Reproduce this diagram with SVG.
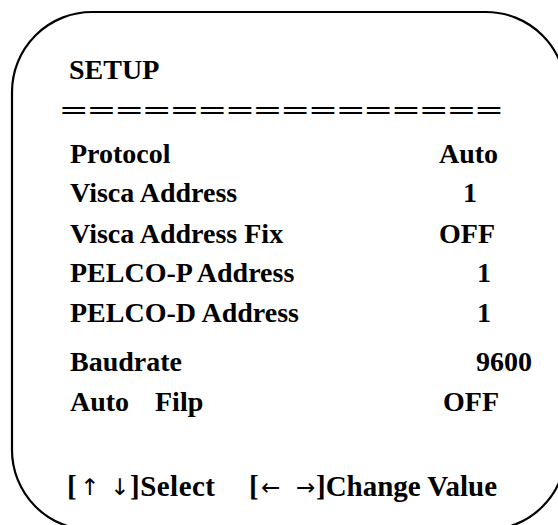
<svg xmlns="http://www.w3.org/2000/svg" width="558" height="525" viewBox="0 0 558 525">
<style>
text{font-family:'Liberation Serif','DejaVu Serif',serif;font-weight:700;font-size:28px;fill:#000}
text.f{font-size:29px}
text.a{font-family:'DejaVu Sans',sans-serif;font-weight:400;font-size:23px}
</style>
<rect width="558" height="525" fill="#fff"/>
<g id="frame"><rect x="12" y="12" width="554" height="518" rx="80" ry="80" fill="none" stroke="#000" stroke-width="2.2"/></g>
<g id="title"><text x="69" y="79">SETUP</text></g>
<g id="rule"><text x="60" y="120" textLength="443" lengthAdjust="spacingAndGlyphs">================</text></g>
<g id="row-protocol"><text x="70" y="163">Protocol</text><text x="439" y="163">Auto</text></g>
<g id="row-visca"><text x="70" y="202">Visca Address</text><text x="463" y="202">1</text></g>
<g id="row-viscafix"><text x="70" y="243">Visca Address Fix</text><text x="439" y="243">OFF</text></g>
<g id="row-pelcop"><text x="70" y="282">PELCO-P Address</text><text x="477" y="282">1</text></g>
<g id="row-pelcod"><text x="70" y="322">PELCO-D Address</text><text x="477" y="322">1</text></g>
<g id="row-baud"><text x="70" y="371">Baudrate</text><text x="476" y="371">9600</text></g>
<g id="row-flip"><text x="70" y="411">Auto<tspan x="155">Filp</tspan></text><text x="443" y="411">OFF</text></g>
<g id="footer">
<text class="f" x="67" y="496">[</text>
<text class="a" x="80" y="495">↑</text>
<text class="a" x="110" y="495">↓</text>
<text class="f" x="130" y="496" textLength="85">]Select</text>
<text class="f" x="249" y="496">[</text>
<text class="a" x="261" y="495">←</text>
<text class="a" x="296" y="495">→</text>
<text class="f" x="316" y="496" textLength="181">]Change Value</text>
</g>
</svg>
